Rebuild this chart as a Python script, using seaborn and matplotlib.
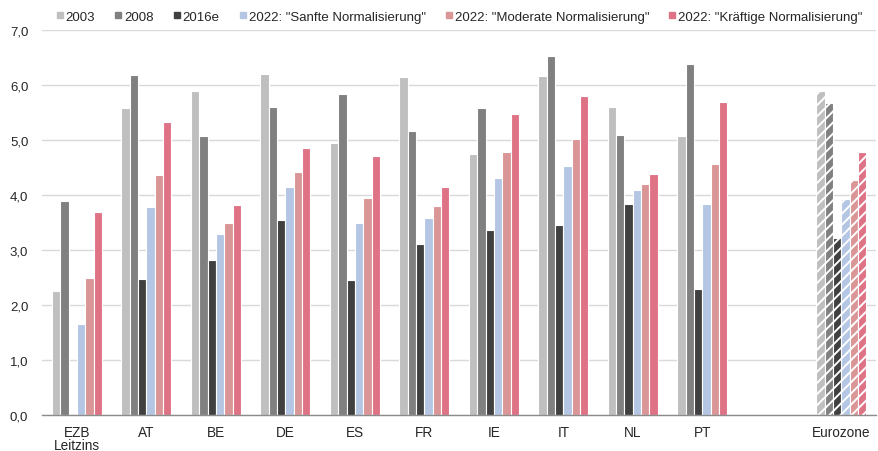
import pandas as pd
import numpy as np
import matplotlib
matplotlib.use("Agg")
import matplotlib.pyplot as plt
from matplotlib.lines import Line2D
import seaborn as sns

categories = ["EZB\nLeitzins", "AT", "BE", "DE", "ES", "FR", "IE", "IT", "NL", "PT", " ", "Eurozone"]
series = ["2003", "2008", "2016e", '2022: "Sanfte Normalisierung"',
          '2022: "Moderate Normalisierung"', '2022: "Kräftige Normalisierung"']

v2003 = [2.25, 5.58, 5.90, 6.21, 4.95, 6.15, 4.75, 6.17, 5.61, 5.08, np.nan, 5.90]
v2008 = [3.89, 6.19, 5.08, 5.60, 5.84, 5.16, 5.58, 6.53, 5.09, 6.38, np.nan, 5.67]
v2016e = [np.nan, 2.48, 2.82, 3.55, 2.46, 3.11, 3.36, 3.46, 3.83, 2.29, np.nan, 3.22]
sanft = [1.65, 3.78, 3.29, 4.15, 3.49, 3.58, 4.31, 4.53, 4.09, 3.84, np.nan, 3.93]
moderat = [2.49, 4.37, 3.49, 4.42, 3.94, 3.80, 4.78, 5.02, 4.21, 4.56, np.nan, 4.27]
kraeftig = [3.70, 5.33, 3.82, 4.86, 4.71, 4.14, 5.48, 5.81, 4.39, 5.70, np.nan, 4.78]

colors = ["#BFBFBF", "#808080", "#404040", "#B4C6E4", "#DA9696", "#DF7386"]

# long format for seaborn
rows = []
for s, vals in zip(series, [v2003, v2008, v2016e, sanft, moderat, kraeftig]):
    for c, v in zip(categories, vals):
        rows.append({"Land": c, "Serie": s, "Wert": v})
df = pd.DataFrame(rows)

sns.set_style("white")
plt.rcParams["font.family"] = ["Liberation Sans", "DejaVu Sans"]
plt.rcParams["hatch.linewidth"] = 1.4
plt.rcParams["hatch.color"] = "white"

fig = plt.figure(figsize=(8.79, 4.52), dpi=100)
ax = fig.add_axes([0.048, 0.0796, 0.9486, 0.8514])

sns.barplot(data=df, x="Land", y="Wert", hue="Serie", order=categories,
            hue_order=series, palette=colors, width=0.72, saturation=1,
            edgecolor="white", linewidth=0.8, legend=False, ax=ax)

# hatched Eurozone bars
ez = categories.index("Eurozone")
for p in ax.patches:
    xc = p.get_x() + p.get_width() / 2
    if abs(xc - ez) < 0.5:
        p.set_hatch("///")
        p.set_edgecolor("white")

ax.set_ylim(0, 7)
ax.set_xlim(-0.5, len(categories) - 0.5)
ax.set_yticks(np.arange(0, 7.1, 1))
ax.set_yticklabels([f"{t:.1f}".replace(".", ",") for t in np.arange(0, 7.1, 1)])
ax.yaxis.grid(True, color="#D9D9D9", linewidth=1)
ax.set_axisbelow(True)
ax.set_xlabel("")
ax.set_ylabel("")

for side in ["left", "top", "right"]:
    ax.spines[side].set_visible(False)
ax.spines["bottom"].set_color("#8C8C8C")
ax.spines["bottom"].set_linewidth(1)

ax.tick_params(axis="x", which="major", length=0, labelsize=9.8, pad=7, colors="#262626")
ax.tick_params(axis="y", length=0, labelsize=9.5, pad=10, colors="#262626")
for lab in ax.get_xticklabels():
    lab.set_linespacing(0.95)
ax.set_xticks(np.arange(-0.5, len(categories), 1), minor=True)
ax.tick_params(axis="x", which="minor", length=5, color="#8C8C8C", direction="out")

handles = [Line2D([], [], marker="s", linestyle="", color=c, markersize=5) for c in colors]
fig.legend(handles, series, loc="upper left", bbox_to_anchor=(0.05, 1.0), ncol=6,
           frameon=False, fontsize=9.5, handletextpad=0.15, columnspacing=1.45,
           handlelength=0.6, labelcolor="#262626")

plt.savefig("out.png", dpi=100)
